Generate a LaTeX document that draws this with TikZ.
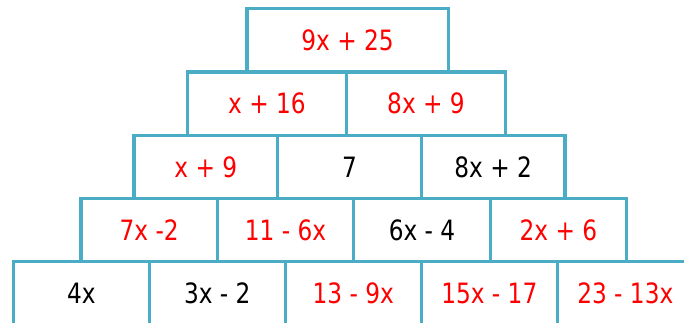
\documentclass[tikz,border=0pt]{standalone}
\usepackage{fontspec}
\setmainfont{DejaVu Sans}[FakeStretch=0.83]
\definecolor{edge}{HTML}{4BACC6}
\definecolor{redtxt}{HTML}{FF0000}
\begin{document}
\begin{tikzpicture}[x=1pt,y=-1pt,
  brick/.style={draw=edge, line width=3.2pt, inner sep=0pt, outer sep=0pt,
    minimum height=63.3pt, font=\fontsize{28}{32}\selectfont},
  ans/.style={text=redtxt},
  giv/.style={text=black}]
\useasboundingbox (0,0) rectangle (684,323);
\clip (0,0) rectangle (684,323);
% row 1
\node[brick, ans, minimum width=201.3pt] (r1a) at (347.6,40.5) {9x + 25};
% row 2
\node[brick, ans, minimum width=159pt] (r2a) at (267,103.7) {x + 16};
\node[brick, ans, minimum width=159pt] (r2b) at (426,103.7) {8x + 9};
% row 3
\node[brick, ans, minimum width=143.7pt] (r3a) at (205.8,166.9) {x + 9};
\node[brick, giv, minimum width=143.7pt] (r3b) at (349.5,166.9) {7};
\node[brick, giv, minimum width=143.7pt] (r3c) at (493.2,166.9) {8x + 2};
% row 4
\node[brick, ans, minimum width=136.4pt] (r4a) at (149.2,230.1) {7x -2};
\node[brick, ans, minimum width=136.4pt] (r4b) at (285.6,230.1) {11 - 6x};
\node[brick, giv, minimum width=136.4pt] (r4c) at (422.0,230.1) {6x - 4};
\node[brick, ans, minimum width=136.4pt] (r4d) at (558.4,230.1) {2x + 6};
% row 5
\node[brick, giv, minimum width=136pt] (r5a) at (81.3,293.4) {4x};
\node[brick, giv, minimum width=136pt] (r5b) at (217.3,293.4) {3x - 2};
\node[brick, ans, minimum width=136pt] (r5c) at (353.3,293.4) {13 - 9x};
\node[brick, ans, minimum width=136pt] (r5d) at (489.3,293.4) {15x - 17};
\node[brick, ans, minimum width=136pt] (r5e) at (625.3,293.4) {23 - 13x};
\end{tikzpicture}
\end{document}
